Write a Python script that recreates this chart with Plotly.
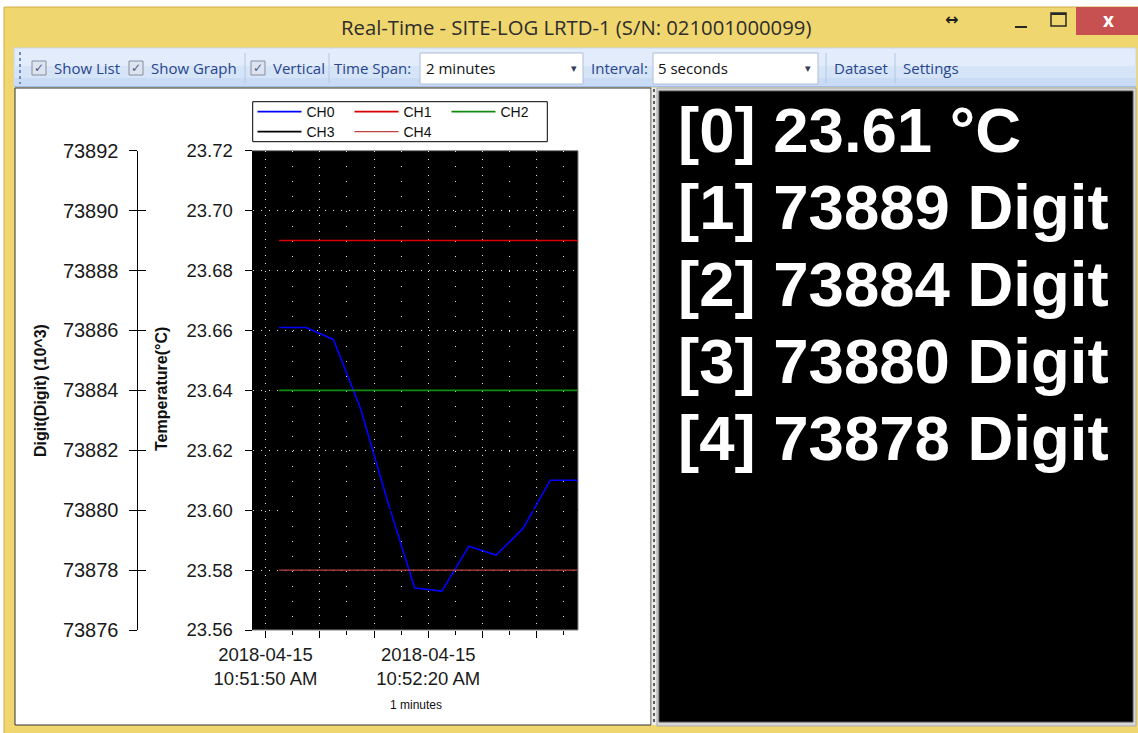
import plotly.graph_objects as go

W, H = 1138, 733

# ---------------- data ----------------
times = [
    "2018-04-15 10:51:52.5", "2018-04-15 10:51:57.5", "2018-04-15 10:52:02.5",
    "2018-04-15 10:52:07.5", "2018-04-15 10:52:12.5", "2018-04-15 10:52:17.5",
    "2018-04-15 10:52:22.5", "2018-04-15 10:52:27.5", "2018-04-15 10:52:32.5",
    "2018-04-15 10:52:37.5", "2018-04-15 10:52:42.5", "2018-04-15 10:52:47.5",
]
ch0_temp = [23.661, 23.661, 23.657, 23.634, 23.603, 23.574,
            23.573, 23.588, 23.585, 23.594, 23.610, 23.610]
ch1_digit = [73889, 73889, 73889, 73889, 73889, 73889, 73889, 73889, 73889, 73889, 73889, 73889]
ch2_digit = [73884, 73884, 73884, 73884, 73884, 73884, 73884, 73884, 73884, 73884, 73884, 73884]
ch3_digit = [73880, 73880, 73880, 73880, 73880, 73880, 73880, 73880, 73880, 73880, 73880, 73880]
ch4_digit = [73878, 73878, 73878, 73878, 73878, 73878, 73878, 73878, 73878, 73878, 73878, 73878]

x_range = ["2018-04-15 10:51:47.6", "2018-04-15 10:52:47.6"]
x_tickvals = ["2018-04-15 10:51:50", "2018-04-15 10:52:00", "2018-04-15 10:52:10",
              "2018-04-15 10:52:20", "2018-04-15 10:52:30", "2018-04-15 10:52:40"]
x_ticktext = ["2018-04-15<br>10:51:50 AM", "", "", "2018-04-15<br>10:52:20 AM", "", ""]
temp_ticks = [23.56, 23.58, 23.60, 23.62, 23.64, 23.66, 23.68, 23.70, 23.72]
digit_ticks = [73876, 73878, 73880, 73882, 73884, 73886, 73888, 73890, 73892]

reading_labels = ["[0] 23.61 °C", "[1] 73889 Digit", "[2] 73884 Digit",
                  "[3] 73880 Digit", "[4] 73878 Digit"]

window_title = "Real-Time - SITE-LOG LRTD-1 (S/N: 021001000099)"

# ---------------- helpers ----------------
def px(x):
    return x / W

def py(y):
    return 1 - y / H

def rect(x0, y0, x1, y1, fill, line=None, lw=1, layer="below"):
    return dict(type="rect", xref="paper", yref="paper",
                x0=px(x0), x1=px(x1), y0=py(y1), y1=py(y0),
                fillcolor=fill, layer=layer,
                line=dict(color=line if line else fill, width=lw if line else 0))

def hline(x0, x1, y, color, lw=1, dash="solid"):
    return dict(type="line", xref="paper", yref="paper", x0=px(x0), x1=px(x1),
                y0=py(y), y1=py(y), layer="below", line=dict(color=color, width=lw, dash=dash))

def vline(x, y0, y1, color, lw=1, dash="solid"):
    return dict(type="line", xref="paper", yref="paper", x0=px(x), x1=px(x),
                y0=py(y0), y1=py(y1), layer="below", line=dict(color=color, width=lw, dash=dash))

def text(x, y, s, size=15, color="#222", family="Open Sans", xanchor="left",
         bold=False, angle=0):
    return dict(xref="paper", yref="paper", x=px(x), y=py(y), text=s, showarrow=False,
                xanchor=xanchor, yanchor="middle", textangle=angle,
                font=dict(family=family, size=size, color=color,
                          weight="bold" if bold else "normal"))

# plot area in pixels
PL, PR, PT, PB = 252.5, 578, 150.7, 630

fig = go.Figure()

fig.add_trace(go.Scatter(x=times, y=ch0_temp, name="CH0", mode="lines",
                         line=dict(color="#0000FF", width=1.6), yaxis="y", legend="legend"))
fig.add_trace(go.Scatter(x=times, y=ch1_digit, name="CH1", mode="lines",
                         line=dict(color="#D80000", width=1.6), yaxis="y2", legend="legend"))
fig.add_trace(go.Scatter(x=times, y=ch2_digit, name="CH2", mode="lines",
                         line=dict(color="#108A10", width=1.6), yaxis="y2", legend="legend"))
fig.add_trace(go.Scatter(x=times, y=ch3_digit, name="CH3", mode="lines",
                         line=dict(color="#000000", width=1.6), yaxis="y3", legend="legend2"))
fig.add_trace(go.Scatter(x=times, y=ch4_digit, name="CH4", mode="lines",
                         line=dict(color="#C04040", width=1.4), yaxis="y2", legend="legend2"))

shapes = []
# window frame
shapes.append(rect(4, 7, 1140, 740, "rgb(240,214,110)", "rgb(205,175,70)", 1))
shapes.append(rect(1076, 7, 1140, 35, "rgb(199,80,80)"))
# toolbar
shapes.append(rect(14, 48, 1136, 87, "rgb(226,236,251)", "rgb(200,215,238)", 1))
shapes.append(rect(14, 66, 1136, 86, "rgb(214,228,248)"))
shapes.append(rect(14, 78, 1136, 86, "rgb(202,219,245)"))
shapes.append(hline(14, 1136, 86.5, "rgb(160,190,232)", 1))
shapes.append(vline(20, 52, 84, "rgb(110,140,190)", 2, "dot"))
for sx in [245, 329, 826, 895]:
    shapes.append(vline(sx, 53, 83, "rgb(180,198,225)", 1))
# checkboxes
for cx in [32, 129, 251]:
    shapes.append(rect(cx, 61, cx + 14, 75, "rgb(222,228,238)", "rgb(130,142,165)", 1))
# combo boxes
shapes.append(rect(420, 53, 583, 84, "white", "rgb(175,190,215)", 1))
shapes.append(rect(653, 53, 818, 84, "white", "rgb(175,190,215)", 1))
# left (graph) panel
shapes.append(rect(15, 88, 651, 725, "white", "rgb(50,50,50)", 1))
# splitter
shapes.append(rect(651.5, 88, 657, 725, "rgb(235,235,235)"))
shapes.append(vline(654, 89, 724, "rgb(95,95,95)", 2, "dot"))
# right (list) panel
shapes.append(rect(657, 88, 1136, 726, "rgb(215,215,215)", "rgb(170,170,170)", 1))
shapes.append(rect(659, 91, 1133, 722, "black", "rgb(80,80,80)", 1))
# plot area
shapes.append(rect(PL, PT, PR, PB, "black", "rgb(130,130,130)", 1))
# legend box
shapes.append(rect(252.7, 101.7, 547.3, 141.7, "white", "black", 1))
# title bar icons
shapes.append(hline(1015, 1027, 27, "rgb(40,40,40)", 2))
shapes.append(rect(1051, 13, 1066, 26, "rgba(0,0,0,0)", "rgb(40,40,40)", 1.5))
shapes.append(hline(1051, 1066, 14, "rgb(40,40,40)", 2))

annotations = []
annotations.append(text(576, 27, window_title, size=20.3, color="rgb(45,45,45)",
                        family="Open Sans", xanchor="center"))
annotations.append(text(951, 20, "↔", size=16, color="rgb(30,30,30)",
                        family="DejaVu Sans", xanchor="center", bold=True))
annotations.append(text(1108, 20, "x", size=19, color="white",
                        family="Open Sans", xanchor="center", bold=True))
tb_color = "rgb(40,70,140)"
for cx in [32, 129, 251]:
    annotations.append(text(cx + 7, 68, "✓", size=12, color="rgb(70,90,140)",
                            family="DejaVu Sans", xanchor="center", bold=True))
toolbar_items = [(52, "Show List"), (149, "Show Graph"), (271, "Vertical"),
                 (332, "Time Span:"), (589, "Interval:"), (832, "Dataset"), (901, "Settings")]
for tx, s in toolbar_items:
    annotations.append(text(tx, 68, s, size=15, color=tb_color))
annotations.append(text(424, 68, "2 minutes", size=15, color="#111"))
annotations.append(text(656, 68, "5 seconds", size=15, color="#111"))
annotations.append(text(574, 69, "▾", size=11, color="rgb(50,60,90)",
                        family="DejaVu Sans", xanchor="center"))
annotations.append(text(808, 69, "▾", size=11, color="rgb(50,60,90)",
                        family="DejaVu Sans", xanchor="center"))
# axis titles
annotations.append(text(40, 391, "Digit(Digit) (10^3)", size=16, color="#111",
                        family="Liberation Sans", xanchor="center", bold=True, angle=-90))
annotations.append(text(161, 389, "Temperature(°C)", size=16, color="#111",
                        family="Liberation Sans", xanchor="center", bold=True, angle=-90))
annotations.append(text(416, 705, "1 minutes", size=12, color="#111",
                        family="Liberation Sans", xanchor="center"))
# readings list
for i, s in enumerate(reading_labels):
    annotations.append(text(676, 130 + i * 77, s, size=63.5, color="white",
                            family="Liberation Sans", bold=True))

temp_font = dict(family="Liberation Sans", size=18.5, color="#1a1a1a")
digit_font = dict(family="Liberation Sans", size=20, color="#1a1a1a")
legend_common = dict(orientation="h", xanchor="left", yanchor="top",
                     bgcolor="rgba(0,0,0,0)", borderwidth=0,
                     font=dict(family="Liberation Sans", size=14, color="#111"),
                     itemwidth=44, entrywidth=38, entrywidthmode="pixels",
                     tracegroupgap=0, traceorder="normal")

fig.update_layout(
    template="none",
    width=W, height=H, autosize=False,
    margin=dict(l=0, r=0, t=0, b=0, pad=0),
    paper_bgcolor="white", plot_bgcolor="rgba(0,0,0,0)",
    showlegend=True,
    legend=dict(x=px(252.5), y=py(96), **legend_common),
    legend2=dict(x=px(252.5), y=py(116), **legend_common),
    xaxis=dict(type="date", domain=[px(PL), px(PR)], range=x_range, anchor="y",
               automargin=False,
               tickmode="array", tickvals=x_tickvals, ticktext=x_ticktext,
               ticks="outside", ticklen=7, tickcolor="black", tickwidth=1,
               tickfont=temp_font, ticklabelstandoff=1,
               showgrid=True, gridcolor="rgb(225,225,225)", gridwidth=1, griddash="1px,7px",
               minor=dict(dtick=10000, tick0="2018-04-15 10:51:55", ticks="outside",
                          ticklen=4, tickcolor="black", showgrid=True,
                          gridcolor="rgb(225,225,225)", gridwidth=1, griddash="1px,14px"),
               showline=False, zeroline=False, fixedrange=True),
    yaxis=dict(domain=[py(PB), py(PT)], range=[23.56, 23.72], anchor="x",
               automargin=False,
               tickmode="array", tickvals=temp_ticks, ticktext=[f"{v:.2f}" for v in temp_ticks],
               ticks="outside", ticklen=7, tickcolor="black", tickfont=temp_font,
               ticklabelstandoff=8,
               showline=True, linecolor="black", linewidth=1,
               showgrid=True, gridcolor="rgb(225,225,225)", gridwidth=1, griddash="1px,7px",
               zeroline=False, fixedrange=True),
    yaxis2=dict(overlaying="y", anchor="free", position=px(136.5), side="left",
                automargin=False,
                range=[73876, 73892], tickmode="array", tickvals=digit_ticks,
                ticktext=[str(v) for v in digit_ticks],
                ticks="outside", ticklen=8, tickcolor="black", tickfont=digit_font,
                ticklabelstandoff=6,
                showline=True, linecolor="black", linewidth=1,
                showgrid=False, zeroline=False, fixedrange=True),
    yaxis3=dict(overlaying="y", anchor="free", position=px(136.5), side="left",
                automargin=False,
                range=[73876, 73892], tickmode="array", tickvals=digit_ticks,
                ticks="inside", ticklen=8, tickcolor="black", showticklabels=False,
                showline=False, showgrid=False, zeroline=False, fixedrange=True),
    shapes=shapes,
    annotations=annotations,
)

fig.write_html("out.html", config={"displayModeBar": False},
               post_script="document.body.style.margin='0px';")
